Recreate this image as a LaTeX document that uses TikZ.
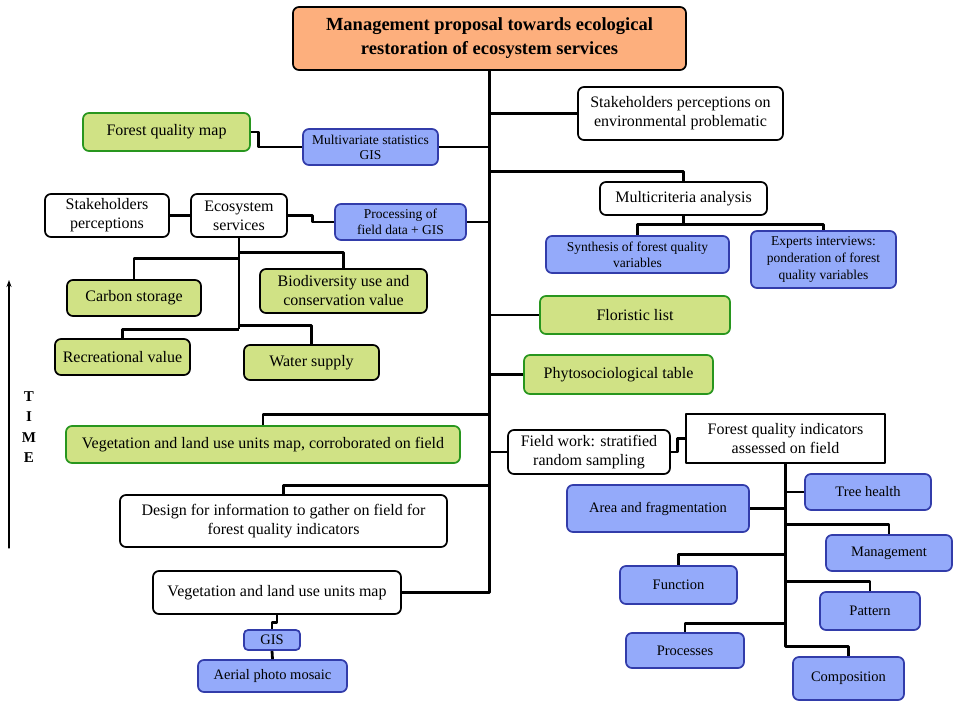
\documentclass[tikz,border=0pt]{standalone}
\usepackage{fontspec}
\setmainfont{Liberation Serif}
\usepackage{tikz}
\usetikzlibrary{arrows.meta}
\definecolor{ofill}{RGB}{253,175,125}
\definecolor{gfill}{RGB}{208,226,133}
\definecolor{gline}{RGB}{40,150,30}
\definecolor{bfill}{RGB}{148,170,250}
\definecolor{bline}{RGB}{50,60,170}

\begin{document}
\begin{tikzpicture}[line cap=round,line join=round,x=1pt,y=-1pt,
  box/.style={draw,line width=1.7pt,rounded corners=6pt,align=center,inner sep=1pt,font=\fontsize{16}{19}\selectfont},
  wbox/.style={box,fill=white},
  gbox/.style={box,fill=gfill},
  ggbox/.style={box,fill=gfill,draw=gline},
  bbox/.style={box,fill=bfill,draw=bline,font=\fontsize{14.5}{17}\selectfont},
  conn/.style={line width=2.8pt,line cap=butt}]
\useasboundingbox (0,0) rectangle (957,708);
\node[box,fill=ofill,minimum width=393,minimum height=63,font=\bfseries\fontsize{18.5}{24}\selectfont] (title) at (489.5,38.5) {Management proposal towards ecological\\restoration of ecosystem services};
\node[wbox,minimum width=205,minimum height=53] (stakeenv) at (680.5,113.5) {Stakeholders perceptions on\\environmental problematic};
\node[wbox,minimum width=167,minimum height=33] (multicrit) at (683.5,198.5) {Multicriteria analysis};
\node[bbox,minimum width=183,minimum height=37,font=\fontsize{13.5}{16}\selectfont] (synth) at (637.5,254.5) {Synthesis of forest quality\\variables};
\node[bbox,minimum width=145,minimum height=57,font=\fontsize{13.5}{17}\selectfont] (experts) at (823.5,259.5) {Experts interviews:\\ponderation of forest\\quality variables};
\node[ggbox,minimum width=190,minimum height=38] (floristic) at (635,315) {Floristic list};
\node[ggbox,minimum width=189,minimum height=39] (phyto) at (618.5,374.5) {Phytosociological table};
\node[wbox,minimum width=162,minimum height=44] (fieldwork) at (589,452) {Field work: stratified\\random sampling};
\node[wbox,rounded corners=0pt,minimum width=199,minimum height=49] (fqind) at (785.5,438.5) {Forest quality indicators\\assessed on field};
\node[bbox,minimum width=126,minimum height=36] (treehealth) at (868,492) {Tree health};
\node[bbox,minimum width=182,minimum height=47] (areafrag) at (658,508.5) {Area and fragmentation};
\node[bbox,minimum width=126,minimum height=36] (management) at (889,553) {Management};
\node[bbox,minimum width=117,minimum height=38] (function) at (678.5,585) {Function};
\node[bbox,minimum width=100,minimum height=38] (pattern) at (870,611) {Pattern};
\node[bbox,minimum width=118,minimum height=35] (processes) at (685,650.5) {Processes};
\node[bbox,minimum width=111,minimum height=43] (composition) at (848.5,678.5) {Composition};
\node[bbox,minimum width=135,minimum height=36,font=\fontsize{13.5}{15}\selectfont] (multivar) at (370.5,147) {Multivariate statistics\\GIS};
\node[ggbox,minimum width=167,minimum height=38] (fqmap) at (166.5,132) {Forest quality map};
\node[bbox,minimum width=131,minimum height=36,font=\fontsize{13.5}{16}\selectfont] (processing) at (400.5,222) {Processing of\\field data + GIS};
\node[wbox,minimum width=96,minimum height=43] (ecoserv) at (239,215.5) {Ecosystem\\services};
\node[wbox,minimum width=124,minimum height=43] (stakeperc) at (107,215.5) {Stakeholders\\perceptions};
\node[gbox,minimum width=134,minimum height=36] (carbon) at (134,298) {Carbon storage};
\node[gbox,minimum width=167,minimum height=44] (biodiv) at (343.5,291) {Biodiversity use and\\conservation value};
\node[gbox,minimum width=135,minimum height=36] (recre) at (122.5,357) {Recreational value};
\node[gbox,minimum width=135,minimum height=35] (water) at (311.5,362.5) {Water supply};
\node[ggbox,minimum width=394,minimum height=37] (vegcorr) at (263,444.5) {Vegetation and land use units map, corroborated on field};
\node[wbox,minimum width=327,minimum height=52] (design) at (283.5,521) {Design for information to gather on field for\\forest quality indicators};
\node[wbox,minimum width=248,minimum height=43] (vegmap) at (277,592.5) {Vegetation and land use units map};
\node[bbox,minimum width=56,minimum height=20,rounded corners=4pt] (gis) at (272,640) {GIS};
\node[bbox,minimum width=149,minimum height=32] (aerial) at (272.5,676) {Aerial photo mosaic};
\node[align=center,font=\bfseries\fontsize{15}{20.5}\selectfont] (timelbl) at (29,427) {T\\I\\M\\E};
\coordinate (timeA) at (9,548);
\coordinate (timeB) at (9,280);
\draw[line width=1.3pt,-{Stealth[length=7pt,width=5pt]}] (timeA) -- (timeB);
\draw[conn] (title.south) |- (vegmap.east);
\draw[conn] (title.south |- stakeenv.west) -- (stakeenv.west);
\draw[conn] ([yshift=10pt]multicrit.north -| title.south) -| (multicrit.north);
\draw[conn] (multicrit.south) -- ++(0,9) -| (synth.north);
\draw[conn] (multicrit.south) -- ++(0,9) -| (experts.north);
\draw[conn] (title.south |- floristic.west) -- (floristic.west);
\draw[conn] (title.south |- phyto.west) -- (phyto.west);
\draw[conn] (title.south |- fieldwork.west) -- (fieldwork.west);
\draw[conn] (fieldwork.east) -- ++(7,0) |- (fqind.west);
\draw[conn] (fqind.south) |- ([yshift=10pt]composition.north) -| (composition.north);
\draw[conn] (fqind.south |- treehealth.west) -- (treehealth.west);
\draw[conn] (fqind.south |- areafrag.east) -- (areafrag.east);
\draw[conn] ([yshift=10pt]management.north -| fqind.south) -| (management.north);
\draw[conn] ([yshift=11pt]function.north -| fqind.south) -| (function.north);
\draw[conn] ([yshift=10pt]pattern.north -| fqind.south) -| (pattern.north);
\draw[conn] ([yshift=9pt]processes.north -| fqind.south) -| (processes.north);
\draw[conn] (title.south |- multivar.east) -- (multivar.east);
\draw[conn] (fqmap.east) -- ++(8,0) |- (multivar.west);
\draw[conn] (title.south |- processing.east) -- (processing.east);
\draw[conn] (ecoserv.east) -- ++(25,0) |- (processing.west);
\draw[conn] (stakeperc.east) -- (ecoserv.west);
\draw[conn] (ecoserv.south) -- ([yshift=9pt]recre.north -| ecoserv.south);
\draw[conn] ([yshift=16pt]biodiv.north -| ecoserv.south) -| (biodiv.north);
\draw[conn] ([yshift=21pt]carbon.north -| ecoserv.south) -| (carbon.north);
\draw[conn] ([yshift=19pt]water.north -| ecoserv.south) -| (water.north);
\draw[conn] ([yshift=9pt]recre.north -| ecoserv.south) -| (recre.north);
\draw[conn] ([yshift=11pt]vegcorr.north -| title.south) -| (vegcorr.north);
\draw[conn] ([yshift=9pt]design.north -| title.south) -| (design.north);
\draw[conn] (vegmap.south) -- ++(0,8) -| (gis.north);
\draw[conn] (gis.south) -- (aerial.north);
\end{tikzpicture}
\end{document}
